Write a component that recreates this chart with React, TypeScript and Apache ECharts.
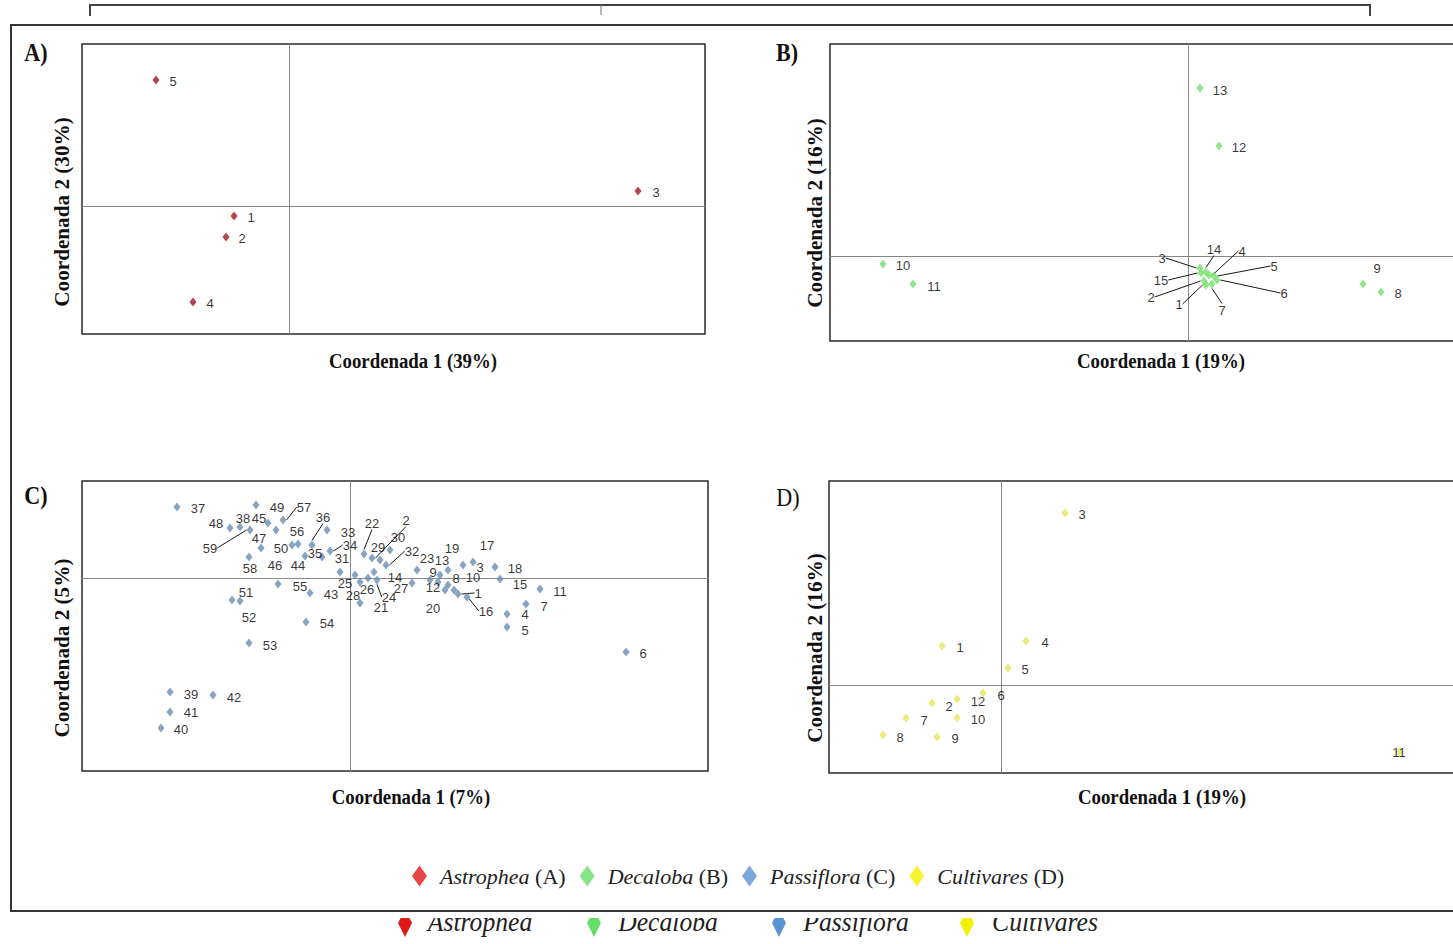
import React, { useEffect, useRef } from 'react';
import * as echarts from 'echarts';

// ---------- Data (PCoA coordinates) ----------
const astropheaIds = ['1', '2', '3', '4', '5'];
const astropheaX = [-0.055, -0.063, 0.349, -0.096, -0.133];
const astropheaY = [-0.010, -0.031, 0.015, -0.096, 0.126];

const decalobaIds = ['1', '2', '3', '4', '5', '6', '7', '8', '9', '10', '11', '12', '13', '14', '15'];
const decalobaX = [0.018, 0.016, 0.012, 0.021, 0.026, 0.029, 0.024, 0.193, 0.175, -0.305, -0.275, 0.031, 0.012, 0.018, 0.013];
const decalobaY = [-0.029, -0.025, -0.012, -0.019, -0.020, -0.024, -0.028, -0.036, -0.028, -0.008, -0.028, 0.110, 0.168, -0.016, -0.017];

const passifloraIds = Array.from({ length: 59 }, (_, i) => String(i + 1));
const passifloraX = [
  0.108, 0.022, 0.113, 0.157, 0.157, 0.276, 0.176, 0.098, 0.080, 0.104,
  0.190, 0.088, 0.090, 0.024, 0.150, 0.117, 0.123, 0.145, 0.098, 0.095,
  0.010, 0.014, 0.067, 0.027, 0.005, 0.018, 0.062, 0.010, 0.030, 0.040,
  -0.010, 0.036, -0.023, -0.020, -0.028, -0.038, -0.173, -0.110, -0.180, -0.189,
  -0.180, -0.137, -0.040, -0.045, -0.082, -0.089, -0.074, -0.120, -0.094, -0.058,
  -0.118, -0.110, -0.101, -0.044, -0.072, -0.052, -0.067, -0.101, -0.100,
];
const passifloraY = [
  -0.016, 0.020, 0.013, -0.036, -0.049, -0.074, -0.026, -0.007, -0.002, -0.012,
  -0.011, -0.004, 0.003, 0.006, -0.001, -0.019, 0.016, 0.011, 0.008, -0.012,
  -0.025, 0.024, 0.008, -0.002, 0.003, 0.000, -0.005, -0.004, 0.018, 0.028,
  0.006, 0.013, 0.048, 0.027, 0.021, 0.033, 0.071, 0.051, -0.114, -0.150,
  -0.134, -0.117, -0.015, 0.022, 0.055, 0.030, 0.048, 0.050, 0.073, 0.033,
  -0.022, -0.023, -0.065, -0.044, -0.006, 0.034, 0.058, 0.021, 0.048,
];

const cultivaresIds = ['1', '2', '3', '4', '5', '6', '7', '8', '9', '10', '11', '12'];
const cultivaresX = [-0.059, -0.069, 0.064, 0.025, 0.007, -0.018, -0.095, -0.118, -0.064, -0.044, 0.398, -0.044];
const cultivaresY = [0.039, -0.018, 0.172, 0.044, 0.017, -0.008, -0.033, -0.050, -0.052, -0.033, -0.067, -0.014];

// ---------- Label placement (pixel offsets of each label from its point) ----------
const astropheaLabelOffset = [[17, 1], [16, 1], [18, 1], [17, 1], [17, 1]];
const astropheaLeaders: string[] = [];

const decalobaLabelOffset = [
  [-27, 19], [-53, 16], [-38, -10], [33, -24], [60, -10], [67, 13], [10, 26],
  [17, 1], [14, -16], [20, 1], [21, 2], [20, 1], [20, 2], [8, -23], [-40, 7],
];
const decalobaLeaders = ['1', '2', '3', '4', '5', '6', '7', '14', '15'];

const passifloraLabelOffset = [
  [20, -1], [34, -38], [17, 2], [18, 0], [18, 3], [17, 1], [18, 2], [8, -7], [3, -8], [19, -13],
  [20, 2], [-5, 5], [2, -15], [21, 5], [20, 5], [19, 14], [14, -17], [20, 1], [4, -22], [-12, 18],
  [21, 4], [8, -31], [10, -12], [12, 17], [-10, 8], [-1, 11], [-11, 5], [-7, 13], [-2, -13], [8, -13],
  [2, -14], [26, -14], [21, 2], [20, -6], [-7, -4], [11, -28], [21, 1], [3, -9], [21, 2], [20, 1],
  [21, 0], [21, 2], [21, 1], [-7, 9], [-9, -5], [14, 17], [-17, 8], [-14, -5], [21, 2], [-11, 3],
  [14, -8], [9, 16], [21, 2], [21, 1], [22, 2], [-1, -13], [21, -13], [1, 11], [-40, 18],
];
const passifloraLeaders = ['1', '2', '16', '22', '24', '32', '34', '36', '57', '59'];

const cultivaresLabelOffset = [
  [18, 1], [17, 3], [17, 1], [19, 1], [17, 1], [18, 2], [18, 2], [17, 2], [18, 1], [21, 1], [0, 0], [21, 2],
];
const cultivaresLeaders: string[] = [];

// ---------- Texts ----------
const legendNames = ['Astrophea', 'Decaloba', 'Passiflora', 'Cultivares'];
const legendLetters = ['A', 'B', 'C', 'D'];
const legendColors = ['#e01818', '#66dd66', '#5b93d3', '#f2f200'];
const markerColors = ['#9a1a22', '#74e06a', '#6b8db0', '#e4e65a'];

const panelLetters = ['A)', 'B)', 'C)', 'D)'];
const xTitles = ['Coordenada 1 (39%)', 'Coordenada 1 (19%)', 'Coordenada 1 (7%)', 'Coordenada 1 (19%)'];
const yTitles = ['Coordenada 2 (30%)', 'Coordenada 2 (16%)', 'Coordenada 2 (5%)', 'Coordenada 2 (16%)'];

// ---------- Layout ----------
const grids = [
  { left: 82, top: 44, width: 623, height: 290 },
  { left: 830, top: 44, width: 626, height: 297 },
  { left: 82, top: 481, width: 626, height: 290 },
  { left: 829, top: 481, width: 627, height: 292 },
];
const xRanges = [[-0.207, 0.416], [-0.358, 0.268], [-0.268, 0.358], [-0.172, 0.455]];
const yRanges = [[-0.128, 0.162], [-0.085, 0.212], [-0.193, 0.097], [-0.088, 0.204]];

const labelFont = "'Liberation Sans', Arial, sans-serif";
const serif = "'Liberation Serif', 'Times New Roman', serif";

function makeSeries(
  name: string, gi: number, ids: string[], xs: number[], ys: number[],
  offsets: number[][], leaders: string[], color: string,
) {
  return {
    type: 'scatter',
    name,
    xAxisIndex: gi,
    yAxisIndex: gi,
    symbol: 'diamond',
    symbolSize: [7, 9],
    itemStyle: { color },
    data: ids.map((id, i) => ({
      name: id,
      value: [xs[i], ys[i]],
      labelLine: { show: leaders.includes(id) },
    })),
    label: {
      show: true,
      position: 'inside',
      formatter: '{b}',
      color: '#000',
      fontSize: 13,
      fontFamily: labelFont,
      textBorderWidth: 0,
      textShadowBlur: 0,
      textShadowColor: 'transparent',
    },
    labelLine: { show: false, lineStyle: { color: '#1a1a1a', width: 1 } },
    labelLayout: (p: any) => {
      const o = offsets[p.dataIndex] || [0, 0];
      return { dx: o[0], dy: o[1] };
    },
    emphasis: { disabled: true },
    silent: true,
  };
}

export default function App() {
  const ref = useRef<HTMLDivElement>(null);

  useEffect(() => {
    if (!ref.current) return;
    const chart = echarts.init(ref.current, undefined, { renderer: 'svg' });

    const graphic: any[] = [];
    // top bracket line
    graphic.push({
      type: 'polyline', z: 5,
      shape: { points: [[90, 16], [90, 5], [1370, 5], [1370, 16]] },
      style: { stroke: '#444', lineWidth: 2, fill: 'none' },
    });
    graphic.push({
      type: 'line', z: 5,
      shape: { x1: 601, y1: 5, x2: 601, y2: 15 },
      style: { stroke: '#777', lineWidth: 1 },
    });
    // clipped second legend row (lower halves only)
    const row2X = [405, 594, 779, 967];
    const row2T = [480, 668, 856, 1045];
    legendNames.forEach((n, i) => {
      graphic.push({
        type: 'polygon', z: 1,
        shape: { points: [[row2X[i], 910], [row2X[i] + 7, 923], [row2X[i], 937], [row2X[i] - 7, 923]] },
        style: { fill: legendColors[i] },
      });
      graphic.push({
        type: 'text', z: 1, x: row2T[i], y: 922, scaleX: 0.95,
        style: { text: n, font: `italic 27px ${serif}`, fill: '#222', align: 'center', verticalAlign: 'middle' },
      });
    });
    graphic.push({
      type: 'rect', z: 2,
      shape: { x: 0, y: 898, width: 1460, height: 20 },
      style: { fill: '#fff' },
    });
    // outer frame
    graphic.push({
      type: 'rect', z: 5,
      shape: { x: 11, y: 25, width: 1480, height: 886 },
      style: { stroke: '#333', lineWidth: 2, fill: 'none' },
    });
    // panel letters
    const letterPos = [[36, 52], [787, 52], [36, 495], [788, 497]];
    panelLetters.forEach((t, i) => {
      graphic.push({
        type: 'text', z: 5, x: letterPos[i][0], y: letterPos[i][1], scaleX: 0.85,
        style: {
          text: t, font: `${i === 3 ? '' : 'bold '}26px ${serif}`, fill: '#111',
          align: 'center', verticalAlign: 'middle',
        },
      });
    });
    // axis titles
    const xTitlePos = [[413, 361], [1161, 361], [411, 797], [1162, 797]];
    const yTitlePos = [[62, 212], [815, 213], [62, 648], [815, 648]];
    xTitles.forEach((t, i) => {
      graphic.push({
        type: 'text', z: 5, x: xTitlePos[i][0], y: xTitlePos[i][1], scaleX: 0.94,
        style: { text: t, font: `bold 20px ${serif}`, fill: '#111', align: 'center', verticalAlign: 'middle' },
      });
    });
    yTitles.forEach((t, i) => {
      graphic.push({
        type: 'text', z: 5, x: yTitlePos[i][0], y: yTitlePos[i][1], rotation: Math.PI / 2, scaleX: 1.06,
        style: { text: t, font: `bold 20px ${serif}`, fill: '#111', align: 'center', verticalAlign: 'middle' },
      });
    });

    const option: any = {
      animation: false,
      backgroundColor: '#fff',
      grid: grids.map((g) => ({
        ...g, show: true, borderColor: '#2a2a2a', borderWidth: 1.5, backgroundColor: 'transparent',
      })),
      xAxis: grids.map((_, i) => ({
        type: 'value', gridIndex: i, min: xRanges[i][0], max: xRanges[i][1],
        axisLine: { show: true, onZero: true, lineStyle: { color: '#888', width: 1 } },
        axisTick: { show: false }, axisLabel: { show: false }, splitLine: { show: false },
      })),
      yAxis: grids.map((_, i) => ({
        type: 'value', gridIndex: i, min: yRanges[i][0], max: yRanges[i][1],
        axisLine: { show: true, onZero: true, lineStyle: { color: '#888', width: 1 } },
        axisTick: { show: false }, axisLabel: { show: false }, splitLine: { show: false },
      })),
      legend: {
        left: 407, top: 860,
        icon: 'diamond',
        itemWidth: 15, itemHeight: 21, itemGap: 14,
        selectedMode: false,
        data: legendNames.map((n, i) => ({ name: n, itemStyle: { color: legendColors[i] } })),
        formatter: (name: string) => `{g|}{i|${name}} (${legendLetters[legendNames.indexOf(name)]})`,
        textStyle: {
          fontFamily: serif, fontSize: 22, color: '#222',
          rich: {
            g: { width: 8 },
            i: { fontStyle: 'italic', fontFamily: serif, fontSize: 22, color: '#222' },
          },
        },
      },
      series: [
        makeSeries('Astrophea', 0, astropheaIds, astropheaX, astropheaY, astropheaLabelOffset, astropheaLeaders, markerColors[0]),
        makeSeries('Decaloba', 1, decalobaIds, decalobaX, decalobaY, decalobaLabelOffset, decalobaLeaders, markerColors[1]),
        makeSeries('Passiflora', 2, passifloraIds, passifloraX, passifloraY, passifloraLabelOffset, passifloraLeaders, markerColors[2]),
        makeSeries('Cultivares', 3, cultivaresIds, cultivaresX, cultivaresY, cultivaresLabelOffset, cultivaresLeaders, markerColors[3]),
      ],
      graphic,
    };
    chart.setOption(option);
    return () => chart.dispose();
  }, []);

  return (
    <div style={{ position: 'fixed', left: 0, top: 0, width: 1453, height: 944, overflow: 'hidden', background: '#fff' }}>
      <div ref={ref} style={{ width: 1460, height: 944 }} />
    </div>
  );
}
